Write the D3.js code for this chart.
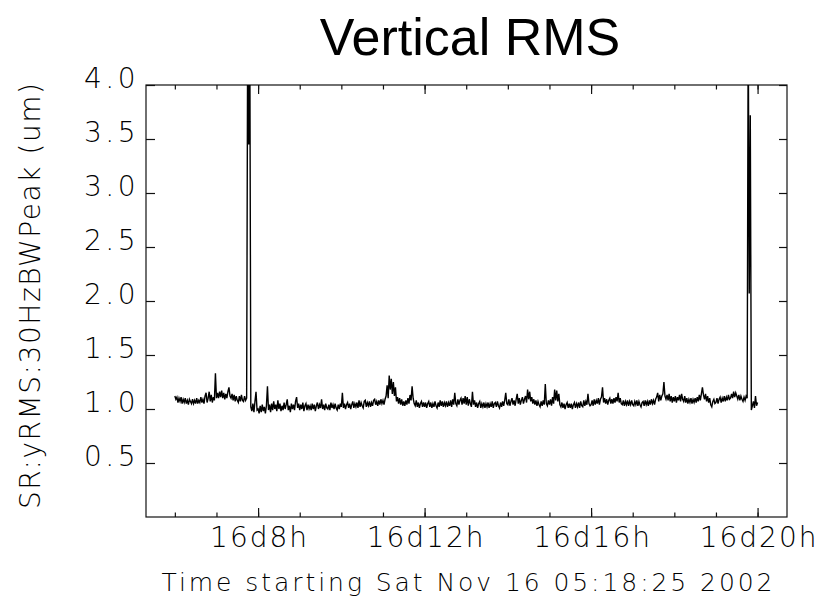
<html>
<head>
<meta charset="utf-8">
<script src="https://d3js.org/d3.v7.min.js"></script>
<style>
	body { margin: 0; background: #fff; }
	.lbl { font-family: "DejaVu Sans", sans-serif; font-weight: 200; font-size: 28px; fill: #000; }
	.title { font-family: "Liberation Sans", Arial, sans-serif; font-size: 52px; fill: #000; }
	.axis path { display: none; }
	.axis line { stroke: #111; stroke-width: 1.2; }
</style>
</head>
<body>
<script>

var titleText = "Vertical RMS";
var yTitle = "SR:yRMS:30HzBWPeak (um)";
var xTitle = "Time starting Sat Nov 16 05:18:25 2002";

// axis runs from the start time for 15.4 hours
var axisStart = Date.UTC(2002, 10, 16, 5, 18, 25);
var axisHours = 15.4;
var yTicks = [0.5, 1.0, 1.5, 2.0, 2.5, 3.0, 3.5, 4.0];
var yTickLabels = ["0.5", "1.0", "1.5", "2.0", "2.5", "3.0", "3.5", "4.0"];
var majorHours = [8, 12, 16, 20];

// samples every 1.5 min from 06:00 to 20:00
var dataStart = Date.UTC(2002, 10, 16, 6, 0, 0);
var stepMin = 1.5;
var rms = [
	1.12,1.09,1.11,1.06,1.10,1.07,1.11,1.05,1.09,1.06,1.10,1.05,1.08,1.04,1.09,1.07,1.05,1.09,1.05,1.08,
	1.05,1.10,1.05,1.08,1.06,1.11,1.06,1.09,1.05,1.12,1.15,1.06,1.10,1.16,1.07,1.13,1.06,1.11,1.08,1.33,
	1.10,1.15,1.10,1.16,1.11,1.17,1.10,1.15,1.09,1.14,1.10,1.16,1.20,1.12,1.10,1.14,1.08,1.13,1.07,1.12,
	1.08,1.06,1.12,1.07,1.13,1.08,1.07,1.12,1.08,1.10,4.60,3.45,4.60,1.02,0.98,1.05,0.97,1.07,1.16,0.99,
	1.00,0.96,1.03,0.97,1.04,0.98,1.02,0.96,1.03,1.21,0.99,1.04,0.97,1.05,0.99,1.07,1.00,1.04,0.98,1.08,
	1.00,1.05,0.98,1.03,0.99,1.06,1.00,1.04,1.09,0.99,1.03,0.97,1.05,1.00,1.04,0.99,1.07,1.11,1.01,1.05,
	0.99,1.04,1.00,1.06,0.98,1.03,1.05,0.99,1.04,1.00,1.03,0.99,1.05,1.00,1.04,0.98,1.03,1.06,1.00,1.04,
	1.01,1.09,1.00,1.04,0.99,1.05,1.01,1.00,1.04,0.99,1.06,1.01,1.04,1.00,1.05,1.01,0.99,1.04,1.00,1.05,
	1.02,1.15,1.01,1.05,1.00,1.04,1.06,1.01,1.05,1.00,1.04,1.07,1.01,1.05,1.02,1.06,1.01,1.08,1.02,1.06,
	1.03,1.01,1.07,1.08,1.02,1.06,1.03,1.07,1.02,1.06,1.03,1.08,1.09,1.04,1.07,1.03,1.08,1.04,1.09,1.05,
	1.08,1.04,1.09,1.12,1.22,1.10,1.31,1.18,1.28,1.14,1.25,1.12,1.20,1.07,1.11,1.05,1.10,1.04,1.09,1.03,
	1.07,1.03,1.08,1.04,1.10,1.05,1.13,1.08,1.21,1.10,1.05,1.03,1.08,1.02,1.06,1.01,1.05,1.07,1.02,1.06,
	1.02,1.06,1.01,1.05,1.07,1.02,1.06,1.01,1.05,1.02,1.07,1.03,1.01,1.06,1.02,1.08,1.03,1.07,1.02,1.06,
	1.03,1.07,1.02,1.06,1.03,1.08,1.02,1.09,1.04,1.15,1.05,1.03,1.09,1.04,1.08,1.10,1.04,1.10,1.05,1.12,
	1.04,1.11,1.03,1.09,1.05,1.02,1.16,1.04,1.08,1.02,1.06,1.01,1.05,1.07,1.01,1.05,1.02,1.06,1.01,1.05,
	1.02,1.06,1.01,1.05,1.02,1.07,1.01,1.05,1.06,1.02,1.07,1.03,1.01,1.06,1.02,1.07,1.03,1.08,1.15,1.05,
	1.04,1.09,1.03,1.07,1.10,1.04,1.08,1.03,1.09,1.14,1.05,1.10,1.04,1.08,1.11,1.05,1.09,1.12,1.06,1.18,
	1.09,1.16,1.07,1.11,1.05,1.09,1.04,1.08,1.03,1.07,1.04,1.02,1.07,1.03,1.08,1.04,1.23,1.05,1.03,1.08,
	1.04,1.09,1.03,1.11,1.05,1.18,1.08,1.17,1.07,1.14,1.04,1.02,1.06,1.01,1.05,1.00,1.04,1.06,1.01,1.05,
	1.01,1.05,1.00,1.04,1.06,1.01,1.05,1.02,1.06,1.01,1.07,1.03,1.02,1.08,1.03,1.07,1.04,1.14,1.05,1.03,
	1.04,1.08,1.03,1.09,1.04,1.08,1.05,1.10,1.04,1.09,1.11,1.20,1.06,1.10,1.05,1.09,1.04,1.08,1.10,1.05,
	1.09,1.05,1.10,1.06,1.11,1.07,1.15,1.06,1.10,1.05,1.04,1.08,1.03,1.07,1.04,1.08,1.03,1.07,1.04,1.08,
	1.04,1.03,1.07,1.04,1.08,1.03,1.07,1.04,1.02,1.06,1.07,1.03,1.08,1.04,1.07,1.03,1.08,1.04,1.09,1.05,
	1.08,1.04,1.09,1.11,1.15,1.07,1.13,1.08,1.12,1.14,1.25,1.12,1.09,1.13,1.08,1.14,1.07,1.12,1.06,1.11,
	1.07,1.12,1.06,1.11,1.08,1.13,1.07,1.14,1.09,1.07,1.12,1.06,1.10,1.05,1.09,1.06,1.10,1.05,1.09,1.06,
	1.10,1.06,1.11,1.07,1.13,1.08,1.14,1.20,1.13,1.09,1.14,1.07,1.12,1.06,1.10,1.04,1.02,1.07,1.09,1.05,
	1.06,1.10,1.05,1.09,1.11,1.06,1.10,1.07,1.12,1.07,1.11,1.08,1.13,1.09,1.10,1.14,1.10,1.16,1.11,1.15,
	1.12,1.09,1.13,1.08,1.12,1.09,1.07,1.11,1.08,1.12,1.10,4.60,2.07,3.72,0.99,1.03,1.07,1.01,1.12,1.03,
	1.06
];

var width = 820,
	height = 601;
var plotL = 146, plotR = 787, plotT = 85, plotB = 517;

var svg = d3.select("body").append("svg")
	.attr("width", width)
	.attr("height", height);

var x = d3.scaleUtc()
	.domain([new Date(axisStart), new Date(axisStart + axisHours * 3600000)])
	.range([plotL, plotR]);

var y = d3.scaleLinear()
	.domain([0, 4])
	.range([plotB, plotT]);

var hourTicks = d3.utcHour.range(x.domain()[0], x.domain()[1]);
var majorTicks = hourTicks.filter(function(d) { return majorHours.indexOf(d.getUTCHours()) >= 0; });
var fmt = function(d) { return d.getUTCDate() + "d" + d.getUTCHours() + "h"; };

// minor hour ticks, bottom and top
svg.append("g").attr("class", "axis")
	.attr("transform", "translate(0," + plotB + ")")
	.call(d3.axisBottom(x).tickValues(hourTicks).tickSize(-4.5).tickFormat(""));
svg.append("g").attr("class", "axis")
	.attr("transform", "translate(0," + plotT + ")")
	.call(d3.axisTop(x).tickValues(hourTicks).tickSize(-4.5).tickFormat(""));

// major ticks with labels
var xAxis = svg.append("g").attr("class", "axis")
	.attr("transform", "translate(0," + plotB + ")")
	.call(d3.axisBottom(x).tickValues(majorTicks).tickSize(-9).tickFormat(fmt));
xAxis.selectAll("text")
	.attr("class", "lbl")
	.attr("y", 30)
	.attr("dy", 0)
	.attr("dx", 1)
	.style("letter-spacing", "2px");

svg.append("g").attr("class", "axis")
	.attr("transform", "translate(0," + plotT + ")")
	.call(d3.axisTop(x).tickValues(majorTicks).tickSize(-9).tickFormat(""));

var yAxis = svg.append("g").attr("class", "axis")
	.attr("transform", "translate(" + plotL + ",0)")
	.call(d3.axisLeft(y).tickValues(yTicks).tickSize(-9)
		.tickFormat(function(d, i) { return yTickLabels[i]; }));
yAxis.selectAll("text")
	.attr("class", "lbl")
	.attr("x", -7)
	.attr("dy", 2.5)
	.style("letter-spacing", "3.5px");

svg.append("g").attr("class", "axis")
	.attr("transform", "translate(" + plotR + ",0)")
	.call(d3.axisRight(y).tickValues(yTicks).tickSize(-8).tickFormat(""));

// frame
svg.append("rect")
	.attr("x", plotL)
	.attr("y", plotT)
	.attr("width", plotR - plotL)
	.attr("height", plotB - plotT)
	.attr("fill", "none")
	.attr("stroke", "#111")
	.attr("stroke-width", 1.2);

svg.append("clipPath").attr("id", "clip")
	.append("rect")
	.attr("x", plotL).attr("y", plotT)
	.attr("width", plotR - plotL).attr("height", plotB - plotT);

var line = d3.line()
	.x(function(d, i) { return x(new Date(dataStart + i * stepMin * 60000)); })
	.y(function(d) { return y(d); });

svg.append("path")
	.datum(rms)
	.attr("clip-path", "url(#clip)")
	.attr("fill", "none")
	.attr("stroke", "#000")
	.attr("stroke-width", 1.4)
	.attr("d", line);

svg.append("text")
	.attr("class", "title")
	.attr("x", 470)
	.attr("y", 55)
	.attr("text-anchor", "middle")
	.text(titleText);

svg.append("text")
	.attr("class", "lbl")
	.attr("transform", "translate(40,296) rotate(-90)")
	.attr("text-anchor", "middle")
	.attr("textLength", 426)
	.attr("lengthAdjust", "spacing")
	.text(yTitle);

svg.append("text")
	.attr("class", "lbl")
	.style("font-size", "25px")
	.attr("x", 467)
	.attr("y", 591)
	.attr("text-anchor", "middle")
	.attr("textLength", 611)
	.attr("lengthAdjust", "spacing")
	.text(xTitle);

</script>
</body>
</html>
